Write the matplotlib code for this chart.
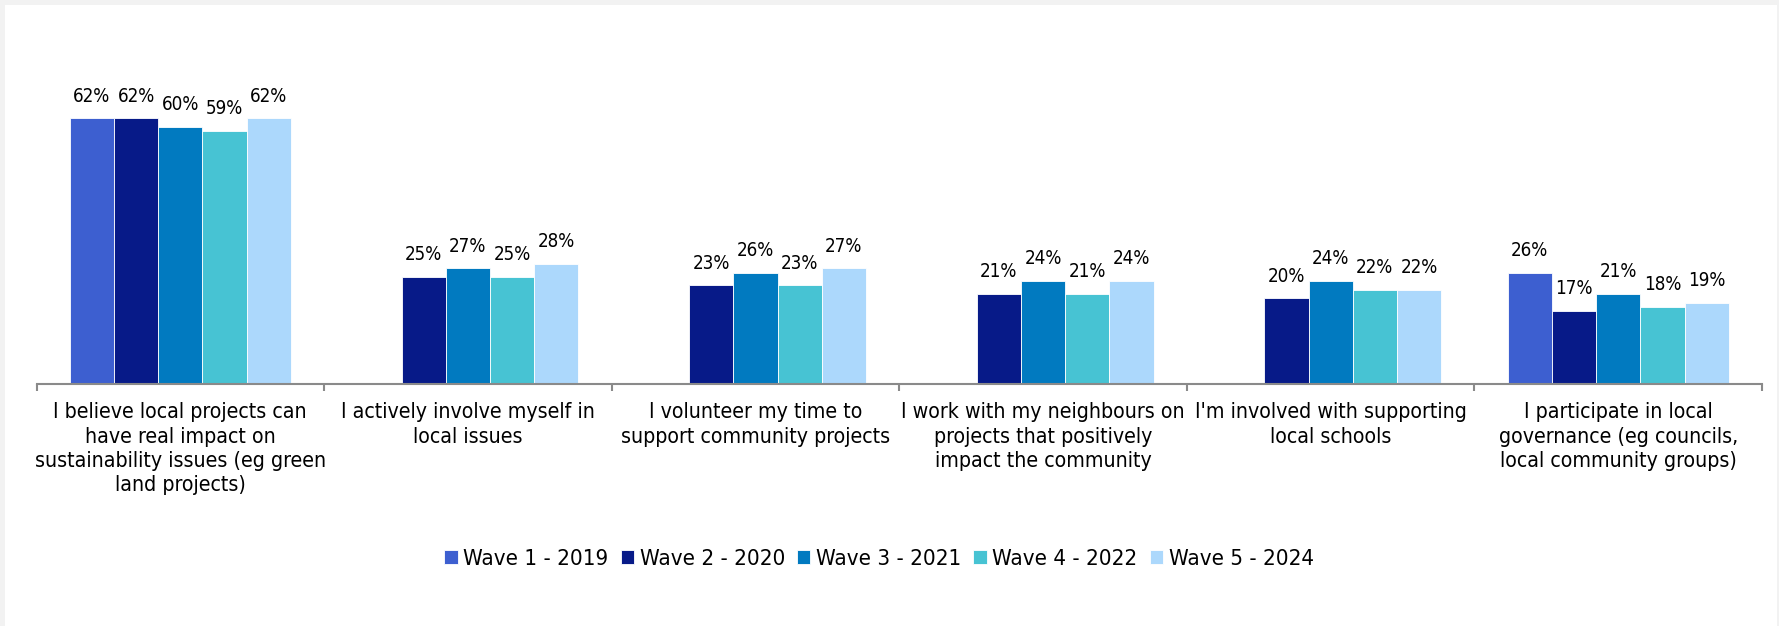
import numpy as np
import matplotlib.pyplot as plt
from matplotlib.patches import Rectangle

categories = [
    "I believe local projects can\nhave real impact on\nsustainability issues (eg green\nland projects)",
    "I actively involve myself in\nlocal issues",
    "I volunteer my time to\nsupport community projects",
    "I work with my neighbours on\nprojects that positively\nimpact the community",
    "I'm involved with supporting\nlocal schools",
    "I participate in local\ngovernance (eg councils,\nlocal community groups)",
]
waves = ["Wave 1 - 2019", "Wave 2 - 2020", "Wave 3 - 2021", "Wave 4 - 2022", "Wave 5 - 2024"]
wave1 = [62, np.nan, np.nan, np.nan, np.nan, 26]
wave2 = [62, 25, 23, 21, 20, 17]
wave3 = [60, 27, 26, 24, 24, 21]
wave4 = [59, 25, 23, 21, 22, 18]
wave5 = [62, 28, 27, 24, 22, 19]
series = [wave1, wave2, wave3, wave4, wave5]
colors = ["#3d5fd0", "#071a88", "#017ac0", "#47c3d3", "#acd8fc"]

plt.rcParams['font.family'] = ['DejaVu Sans']
plt.rcParams['font.stretch'] = 'condensed'

fig = plt.figure(figsize=(17.79, 6.26), dpi=100, facecolor="#f2f2f2")
# white card on the grey page
fig.patches.append(Rectangle((5 / 1779, 0), 1772 / 1779, 621 / 626,
                             transform=fig.transFigure, facecolor="white",
                             edgecolor="none", zorder=-10))

ax = fig.add_axes([36.5 / 1779, 1 - 384 / 626, (1762 - 36.5) / 1779, 300 / 626])
ax.set_facecolor("none")
ax.set_zorder(1)

x = np.arange(len(categories))
width = 0.1537
for j, (vals, col, name) in enumerate(zip(series, colors, waves)):
    pos = x + (j - 2) * width
    bars = ax.bar(pos, vals, width, color=col, edgecolor="white", linewidth=0.6, label=name)
    for xp, v in zip(pos, vals):
        if np.isnan(v):
            continue
        ax.annotate(f"{v:.0f}%", (xp, v), xytext=(0, 12), textcoords="offset points",
                    ha="center", va="baseline", fontsize=13.5)

ax.set_xlim(-0.5, len(categories) - 0.5)
ax.set_ylim(0, 70)
ax.set_yticks([])
for s in ["top", "right", "left"]:
    ax.spines[s].set_visible(False)
ax.spines["bottom"].set_color("#8a8a8a")
ax.spines["bottom"].set_linewidth(1.5)

ax.set_xticks(x)
ax.set_xticklabels(categories, fontsize=15.3, linespacing=1.28)
ax.tick_params(axis="x", which="major", length=0, pad=13)
ax.set_xticks(np.arange(len(categories) + 1) - 0.5, minor=True)
ax.tick_params(axis="x", which="minor", length=5, width=1.5, color="#8a8a8a")

fig.legend(loc="center", bbox_to_anchor=(879 / 1779, 1 - 559 / 626), ncol=5,
           frameon=False, fontsize=16, handlelength=0.6, handleheight=0.6,
           handletextpad=0.25, columnspacing=0.55, borderpad=0)

fig.savefig("out.png", dpi=100, facecolor=fig.get_facecolor())
